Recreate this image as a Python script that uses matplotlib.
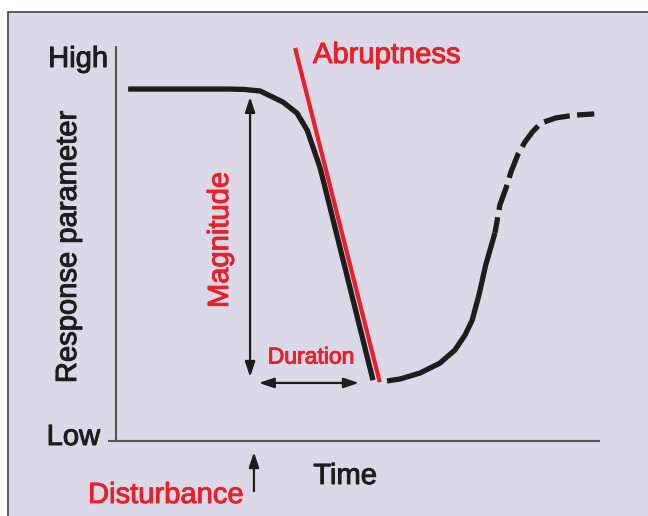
import numpy as np
import matplotlib.pyplot as plt
import matplotlib.patheffects as pe
from matplotlib.patches import Rectangle

plt.rcParams['font.family'] = ['Liberation Sans', 'DejaVu Sans']

# response curve, time 0-100, response 0 (Low) - 100 (High)
drop_t = [2.5, 23.5, 26.5, 29.8, 34.5, 37.4, 39.5, 40.7, 42.1, 42.8, 53.1]
drop_r = [89.1, 89.1, 89.0, 88.6, 85.8, 83.0, 78.7, 74.4, 69.4, 66.1, 15.4]
rec_t = [56.0, 58.7, 62.8, 66.9, 70.0, 72.1, 73.6, 75.0, 76.4, 78.3]
rec_r = [15.2, 15.7, 17.2, 19.7, 23.0, 26.8, 30.6, 37.0, 44.6, 52.7]
dash_t = [78.3, 79.3, 80.6, 81.6, 83.1, 84.5, 86.0, 87.8, 90.9, 94.8, 98.8]
dash_r = [52.7, 59.7, 64.1, 68.1, 72.7, 75.7, 78.2, 80.5, 81.8, 82.5, 82.8]
abrupt_t = [37.0, 54.5]
abrupt_r = [99.5, 14.9]
magnitude = (27.7, 87.1, 16.2)   # t, top, bottom
duration = (14.7, 29.5, 50.2)    # r, start, end
disturb_t = 28.5

red = '#e8202a'
ink = '#1e1c1d'
bg = '#dbd8e7'

fig = plt.figure(figsize=(6.48, 5.16), dpi=100)
fig.patch.set_facecolor('white')
fig.patches.append(Rectangle((8/648, -0.01), 1, 1.01 - 12/516, transform=fig.transFigure,
                             facecolor=bg, edgecolor='#444444', lw=1.2, zorder=-10))

ax = fig.add_axes([116/648, 75/516, 484/648, 395/516])
ax.set_xlim(0, 100)
ax.set_ylim(0, 100)
ax.axis('off')

# axes lines
ax.plot([-1.65, 100], [0, 0], color='#555555', lw=1.5, clip_on=False, solid_capstyle='butt')
ax.plot([0, 0], [0, 100], color='#555555', lw=1.5, clip_on=False, solid_capstyle='butt')

ax.plot(drop_t, drop_r, color=ink, lw=3.8, solid_capstyle='butt', solid_joinstyle='round')
ax.plot(rec_t, rec_r, color=ink, lw=3.8, solid_capstyle='butt', solid_joinstyle='round')
ax.plot(dash_t, dash_r, color=ink, lw=3.8, linestyle=(2, (5.0, 1.4)), dash_capstyle='butt')
ax.plot(abrupt_t, abrupt_r, color=red, lw=3.0, solid_capstyle='butt', clip_on=False)

arr = dict(arrowstyle='<|-|>,head_length=0.9,head_width=0.3', color=ink, lw=1.6,
           shrinkA=0, shrinkB=0)
ax.annotate('', xy=(magnitude[0], magnitude[1]), xytext=(magnitude[0], magnitude[2]),
            arrowprops=arr)
ax.annotate('', xy=(duration[1], duration[0]), xytext=(duration[2], duration[0]),
            arrowprops=arr)
ax.annotate('', xy=(disturb_t, -2.8), xytext=(disturb_t, -12.7), annotation_clip=False,
            arrowprops=dict(arrowstyle='-|>,head_length=0.9,head_width=0.3', color=ink,
                            lw=1.6, shrinkA=0, shrinkB=0))

fs = 21
def px(x, y):
    return x / 648, 1 - y / 516

def label(x, y, s, c, **kw):
    kw.setdefault('fontsize', fs)
    fig.text(*px(x, y), s, color=c,
             path_effects=[pe.withStroke(linewidth=0.7, foreground=c)], **kw)

label(108, 59, 'High', ink, ha='right', va='center')
label(100, 437, 'Low', ink, ha='right', va='center')
label(68, 247, 'Response parameter', ink, rotation=90, ha='center', va='center')
label(345, 476, 'Time', ink, ha='center', va='center')
label(88, 495, 'Disturbance', red, ha='left', va='center')
label(313, 55, 'Abruptness', red, ha='left', va='center')
label(220, 240, 'Magnitude', red, rotation=90, ha='center', va='center')
label(311, 357, 'Duration', red, fontsize=16.5, ha='center', va='center')

fig.savefig('out.png', dpi=100, facecolor=fig.get_facecolor())
